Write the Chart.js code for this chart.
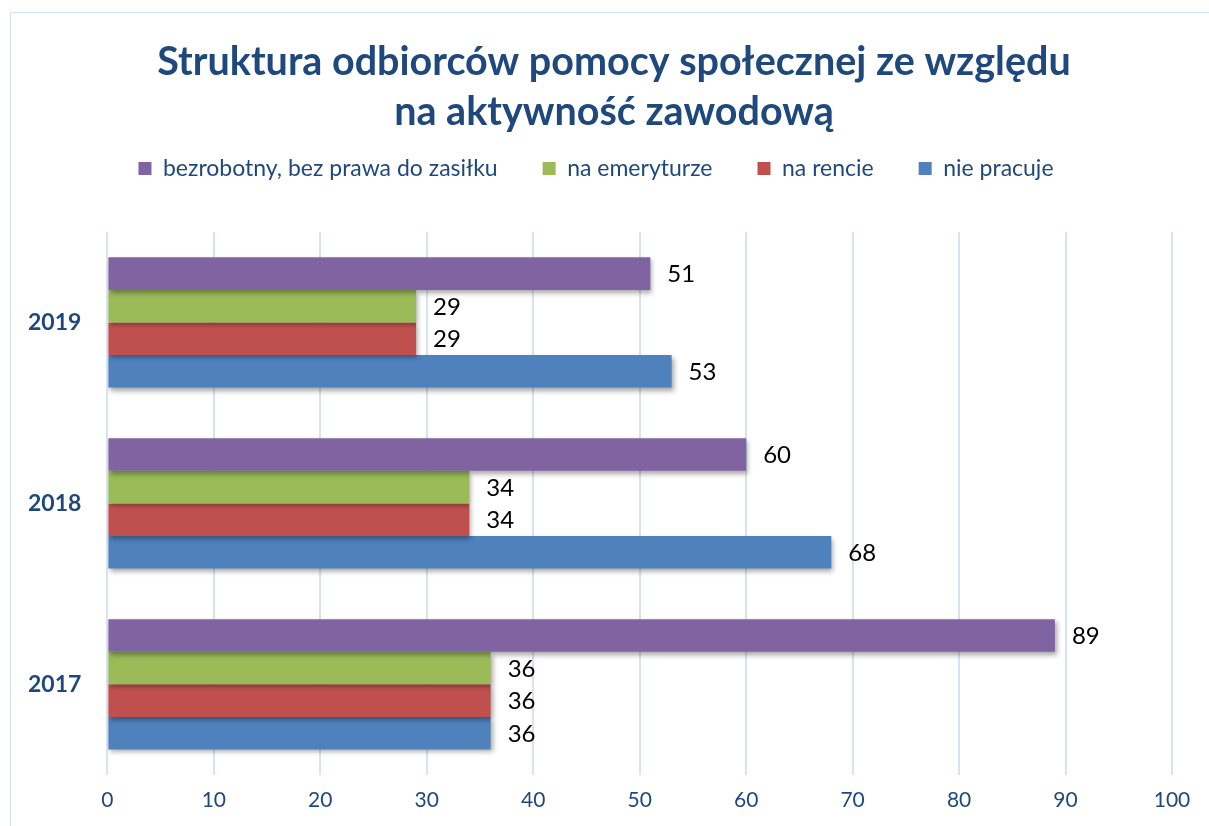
<!DOCTYPE html>
<html lang="pl">
<head>
  <meta charset="UTF-8" />
  <title>Struktura odbiorców pomocy społecznej</title>
  <script src="https://cdn.jsdelivr.net/npm/chart.js"></script>
  <style>
    html, body { margin: 0; padding: 0; background: #fff; overflow: hidden; }
    .frame {
      position: absolute; left: 10px; top: 12px; width: 1199px; height: 814px;
      border-left: 1px solid #d3e2f4; border-top: 1px solid #d3e2f4; box-sizing: border-box;
    }
    .wrap { position: absolute; left: 0; top: 0; width: 1209px; height: 826px; }
  </style>
</head>
<body>
  <div class="frame"></div>
  <div class="wrap"><canvas id="chart"></canvas></div>

  <script>
    // data
    const years = ['2019', '2018', '2017'];
    const seriesNames = ['bezrobotny, bez prawa do zasiłku', 'na emeryturze', 'na rencie', 'nie pracuje'];
    const bezrobotny = [51, 60, 89];
    const emerytura = [29, 34, 36];
    const renta = [29, 34, 36];
    const niePracuje = [53, 68, 36];
    const xTicks = [0, 10, 20, 30, 40, 50, 60, 70, 80, 90, 100];
    const titleLines = ['Struktura odbiorców pomocy społecznej ze względu', 'na aktywność zawodową'];

    const colors = ['#8064a2', '#9bbb59', '#c0504d', '#4f81bd'];
    const navy = '#1f497d';
    const font = 'Lato, "Open Sans", sans-serif';

    // title drawn by hand so it can sit a bit right of the canvas centre
    const titlePlugin = {
      id: 'titlePlugin',
      afterDraw(chart) {
        const c = chart.ctx;
        c.save();
        c.font = 'bold 39.5px ' + font;
        c.fillStyle = navy;
        c.textAlign = 'center';
        c.textBaseline = 'middle';
        c.fillText(titleLines[0], 614, 62);
        c.fillText(titleLines[1], 614, 112);
        c.restore();
      }
    };

    // more room under the legend row
    const legendSpace = {
      id: 'legendSpace',
      beforeInit(chart) {
        const fit = chart.legend.fit;
        chart.legend.fit = function () {
          fit.call(this);
          this.height += 42;
        };
      }
    };

    // soft shadow under the bars
    const barShadow = {
      id: 'barShadow',
      beforeDatasetsDraw(chart) {
        const c = chart.ctx;
        c.save();
        c.shadowColor = 'rgba(0,0,0,0.35)';
        c.shadowBlur = 5;
        c.shadowOffsetX = 2;
        c.shadowOffsetY = 3;
      },
      afterDatasetsDraw(chart) {
        chart.ctx.restore();
      }
    };

    // value labels right of each bar
    const valueLabels = {
      id: 'valueLabels',
      afterDraw(chart) {
        const c = chart.ctx;
        c.save();
        c.font = '24px ' + font;
        c.fillStyle = '#000';
        c.textBaseline = 'middle';
        c.textAlign = 'left';
        chart.data.datasets.forEach((ds, i) => {
          chart.getDatasetMeta(i).data.forEach((bar, j) => {
            c.fillText(ds.data[j], bar.x + 17, bar.y + 1);
          });
        });
        c.restore();
      }
    };

    const ctx = document.getElementById('chart').getContext('2d');
    new Chart(ctx, {
      type: 'bar',
      data: {
        labels: years,
        datasets: [bezrobotny, emerytura, renta, niePracuje].map((d, i) => ({
          label: seriesNames[i],
          data: d,
          backgroundColor: colors[i],
          borderWidth: 0,
          categoryPercentage: 0.72,
          barPercentage: 1.0
        }))
      },
      options: {
        indexAxis: 'y',
        responsive: true,
        maintainAspectRatio: false,
        animation: false,
        layout: { padding: { left: 10, right: 27, top: 112, bottom: 0 } },
        plugins: {
          title: { display: false },
          legend: {
            position: 'top',
            labels: {
              color: navy,
              font: { family: font, size: 23 },
              boxWidth: 13,
              boxHeight: 13,
              padding: 45
            }
          },
          tooltip: { enabled: false }
        },
        scales: {
          x: {
            min: 0,
            max: 100,
            afterBuildTicks(axis) { axis.ticks = xTicks.map(v => ({ value: v })); },
            afterFit(axis) { axis.paddingRight = 37; },
            grid: { color: '#d6e3f3', lineWidth: 2, drawTicks: false },
            border: { display: false },
            ticks: {
              color: navy,
              font: { family: font, size: 21 },
              padding: 13
            }
          },
          y: {
            grid: { display: false },
            border: { display: false },
            ticks: {
              color: navy,
              font: { family: font, size: 23, weight: 'bold' },
              padding: 18
            }
          }
        }
      },
      plugins: [legendSpace, barShadow, valueLabels, titlePlugin]
    });
  </script>
</body>
</html>
